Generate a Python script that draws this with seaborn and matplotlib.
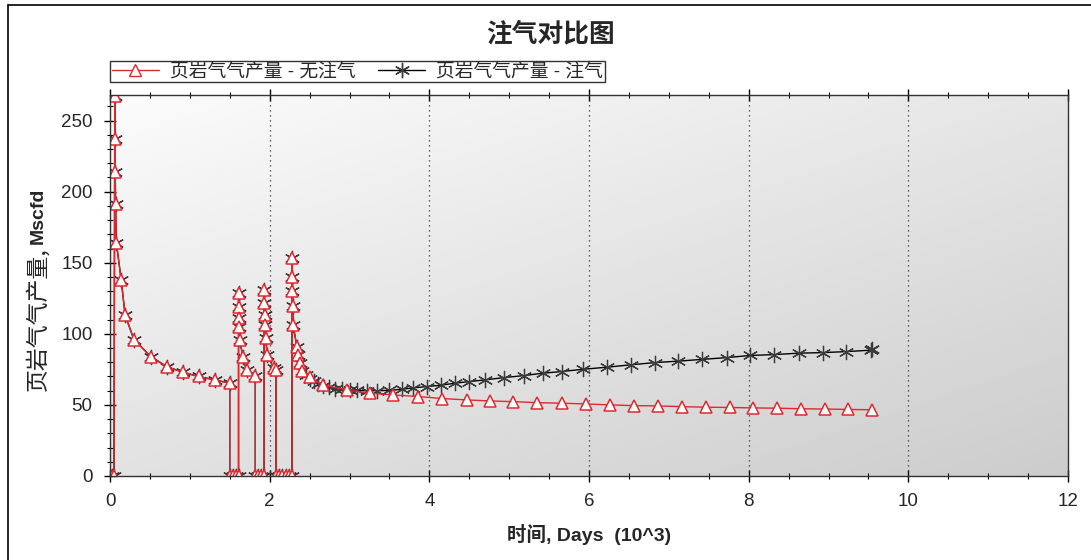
import numpy as np
import pandas as pd
import matplotlib
matplotlib.use("Agg")
import matplotlib.pyplot as plt
from matplotlib.lines import Line2D
from matplotlib.ticker import MultipleLocator
import seaborn as sns

# ---------------- data (time in 10^3 days, rate in Mscfd) ----------------
shared_x = [0.03, 0.05, 0.06, 0.06, 0.065, 0.07, 0.08, 0.14, 0.19, 0.30, 0.51, 0.71,
            0.91, 1.11, 1.31, 1.50, 1.50, 1.54, 1.58, 1.61, 1.61, 1.613, 1.617, 1.62,
            1.63, 1.66, 1.71, 1.82, 1.82, 1.85, 1.89, 1.93, 1.93, 1.933, 1.937, 1.94,
            1.95, 1.97, 2.05, 2.08, 2.08, 2.12, 2.16, 2.20, 2.24, 2.28, 2.28, 2.283,
            2.286, 2.29, 2.295, 2.34, 2.36, 2.38, 2.41]
shared_y = [0, 0, 267, 237, 214, 191, 164, 138, 113, 96, 84, 77,
            73, 70, 67.6, 65.3, 0, 0, 0, 0, 128.7, 119.2, 111, 104.7,
            95.8, 84, 74.6, 70, 0, 0, 0, 0, 131, 121.6, 113.4, 106.3,
            97, 85.2, 76, 74.6, 0, 0, 0, 0, 0, 0, 153, 140,
            130, 119.6, 106, 91, 85, 79.4, 74]

red_tail_x = [2.50, 2.67, 2.97, 3.26, 3.55, 3.86, 4.16, 4.47, 4.76, 5.05, 5.35, 5.66,
              5.96, 6.26, 6.56, 6.86, 7.16, 7.46, 7.76, 8.05, 8.35, 8.66, 8.96, 9.25, 9.54]
red_tail_y = [69.5, 64, 60.6, 58.2, 57, 55.9, 54.5, 53.5, 52.8, 52.3, 51.6, 51.2,
              50.7, 50, 49.5, 49.3, 48.8, 48.4, 48.2, 47.9, 47.7, 47.3, 47.1, 46.8, 46.6]

black_tail_x = [2.45, 2.50, 2.55, 2.60, 2.67, 2.74, 2.82, 2.90, 3.00, 3.10, 3.22, 3.35,
                3.50, 3.655, 3.80, 3.97, 4.14, 4.32, 4.50, 4.70, 4.93, 5.18, 5.42, 5.66,
                5.93, 6.22, 6.52, 6.83, 7.12, 7.41, 7.73, 8.02, 8.32, 8.63, 8.93, 9.22,
                9.53, 9.55]
black_tail_y = [71, 68.5, 66.5, 65, 63.6, 62.5, 61.5, 61, 60.5, 60.2, 60, 60,
                60.2, 61, 62, 62.9, 63.8, 65.3, 66.4, 67.6, 69.2, 70.6, 72.3, 73.5,
                75.1, 76.5, 78.2, 79.8, 80.8, 82, 83.3, 84.8, 85.4, 86.4, 86.8, 87.5,
                88.5, 89]

label_red = "页岩气气产量 - 无注气"
label_black = "页岩气气产量 - 注气"
title = "注气对比图"
xlabel = "时间, Days  (10^3)"
ylabel_cn = "页岩气气产量,"
ylabel_unit = "Mscfd"

red_df = pd.DataFrame({"t": shared_x + red_tail_x, "q": shared_y + red_tail_y})
black_df = pd.DataFrame({"t": shared_x + black_tail_x, "q": shared_y + black_tail_y})

# ---------------- style ----------------
sns.set_style("ticks")
plt.rcParams["font.family"] = ["Liberation Sans", "Noto Sans CJK SC", "DejaVu Sans"]

fig = plt.figure(figsize=(10.91, 5.6), dpi=100)
fig.patch.set_facecolor("white")
ax = fig.add_axes([110 / 1091, 1 - 476 / 560, (1068 - 110) / 1091, (476 - 95) / 560])

# gradient background
N = 200
yy, xx = np.mgrid[0:N, 0:N] / (N - 1)
grad = 0.985 - 0.10 * yy - 0.085 * xx
ax.imshow(grad, extent=[0, 1, 0, 1], transform=ax.transAxes, cmap="gray",
          vmin=0, vmax=1, aspect="auto", zorder=0, origin="upper")

star = (6, 2, 0)
sns.lineplot(data=black_df, x="t", y="q", sort=False, estimator=None, ax=ax,
             color="black", linewidth=1.0, marker=star, markersize=11,
             markeredgecolor="#3a3a3a", markeredgewidth=0.9, zorder=3)
sns.lineplot(data=red_df, x="t", y="q", sort=False, estimator=None, ax=ax,
             color="#e02830", linewidth=1.0, marker="^", markersize=8,
             markerfacecolor="white", markeredgecolor="#e02830",
             markeredgewidth=1.1, zorder=4)

ax.set_xlim(0, 12)
ax.set_ylim(0, 268)
ax.xaxis.set_major_locator(MultipleLocator(2))
ax.xaxis.set_minor_locator(MultipleLocator(0.5))
ax.yaxis.set_major_locator(MultipleLocator(50))
ax.yaxis.set_minor_locator(MultipleLocator(10))
ax.tick_params(axis="both", which="major", direction="inout", length=9, width=1,
               color="black", labelsize=13.5, pad=8)
ax.tick_params(axis="both", which="minor", direction="inout", length=5, width=0.8,
               color="black")
ax.tick_params(axis="x", which="both", top=True, labeltop=False)
for s in ax.spines.values():
    s.set_color("#333333")
    s.set_linewidth(1.0)
    s.set_zorder(5)

for gx in [2, 4, 6, 8, 10]:
    ax.axvline(gx, color="#333333", linestyle=(0, (1, 3)), linewidth=0.9, zorder=1)

ax.set_xlabel(xlabel, fontsize=14, fontweight="bold", labelpad=10)
ax.set_ylabel("")

# y label: Chinese part regular, unit bold
t_cn = fig.text(38 / 1091, 1 - 391 / 560, ylabel_cn, rotation=90, ha="center",
                va="bottom", fontsize=16.5, family=["Noto Sans CJK SC", "DejaVu Sans"])
fig.canvas.draw()
bb = t_cn.get_window_extent(renderer=fig.canvas.get_renderer())
fig.text(38 / 1091, (bb.y1 + 3) / fig.bbox.height, ylabel_unit, rotation=90,
         ha="center", va="bottom", fontsize=14, fontweight="bold")

fig.text(0.505, 0.94, title, ha="center", va="center", fontsize=18.5,
         fontweight="bold", family=["Noto Sans CJK SC", "DejaVu Sans"])

handles = [
    Line2D([], [], color="#e02830", linewidth=1, marker="^", markersize=8,
           markerfacecolor="white", markeredgecolor="#e02830"),
    Line2D([], [], color="black", linewidth=1, marker=star, markersize=11,
           markeredgecolor="#3a3a3a"),
]
leg = fig.legend(handles, [label_red, label_black], ncol=2, loc="upper left",
                 bbox_to_anchor=(110 / 1091, 1 - 61 / 560), frameon=True,
                 fancybox=False, edgecolor="black", fontsize=13.5, borderpad=0.1,
                 handlelength=2.5, columnspacing=1.2, handletextpad=0.6,
                 borderaxespad=0)
leg.get_frame().set_linewidth(1.0)

# screenshot frame (top and left)
fig.add_artist(Line2D([8 / 1091, 1.0], [1 - 5 / 560, 1 - 5 / 560], color="black",
                      linewidth=1.2, transform=fig.transFigure))
fig.add_artist(Line2D([8 / 1091, 8 / 1091], [0, 1 - 5 / 560], color="black",
                      linewidth=1.2, transform=fig.transFigure))

fig.savefig("out.png", dpi=100)
